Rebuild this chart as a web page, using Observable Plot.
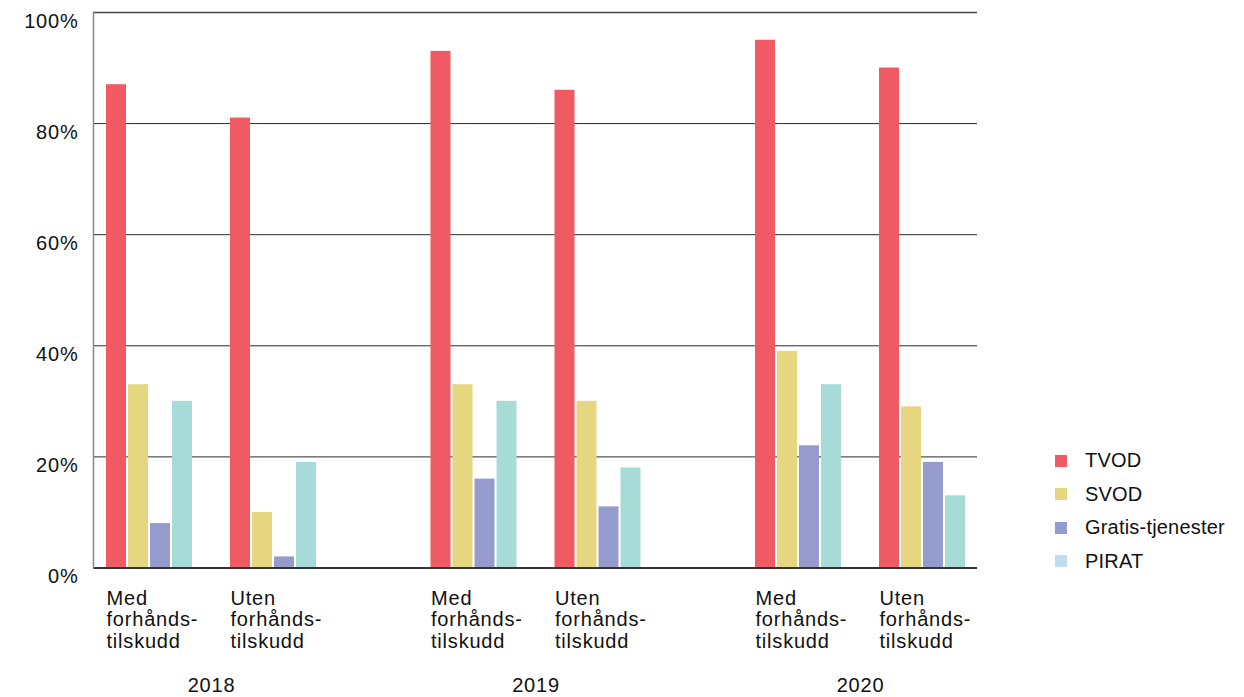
<!DOCTYPE html>
<html><head><meta charset="utf-8">
<script src="https://cdn.jsdelivr.net/npm/d3@7"></script>
<script src="https://cdn.jsdelivr.net/npm/@observablehq/plot@0.6"></script>
<style>
body{margin:0;background:#fff;font-family:"Liberation Sans",Arial,Helvetica,sans-serif;}
#wrap{position:relative;width:1244px;height:697px;overflow:hidden;}
#legend{position:absolute;left:1055px;top:443.75px;}
.item{display:flex;align-items:center;height:33.5px;font-size:20px;letter-spacing:0.2px;color:#111;white-space:nowrap;}
.sw{width:12px;height:12px;margin-right:18px;flex:none;}
</style></head><body>
<div id="wrap"><div id="chart"></div><div id="legend"></div></div>
<script>
// ---- data ----
const years = ["2018", "2019", "2020"];
const groups = ["Med", "Uten"];
const groupLabels = ["Med\nforhånds-\ntilskudd", "Uten\nforhånds-\ntilskudd"];
const series = ["TVOD", "SVOD", "Gratis-tjenester", "PIRAT"];
const barColors = ["#ef5a63", "#e6d680", "#959ccd", "#a6dbd8"];
const legendColors = ["#ef5a63", "#e6d680", "#959ccd", "#bfdcf2"];
// order: 2018 Med, 2018 Uten, 2019 Med, 2019 Uten, 2020 Med, 2020 Uten
const tvod   = [87, 81, 93, 86, 95, 90];
const svod   = [33, 10, 33, 30, 39, 29];
const gratis = [8, 2, 16, 11, 22, 19];
const pirat  = [30, 19, 30, 18, 33, 13];
const yTicks = [0, 20, 40, 60, 80, 100];

const seriesValues = [tvod, svod, gratis, pirat];
const rows = [];
years.forEach((yr, yi) => groups.forEach((g, gi) => {
  const k = yi * 2 + gi;
  seriesValues.forEach((arr, si) => rows.push({year: yr, group: g, series: series[si], value: arr[k]}));
}));

// ---- layout ----
const W = 1244, H = 697;
const step = 324.5, barW = 20, barPitch = 22, groupPitch = 124, firstOffset = 57.25;
const font = "'Liberation Sans', Arial, Helvetica, sans-serif";

const barMarks = groups.flatMap((g, gi) => series.map((s, si) => {
  const left = firstOffset + gi * groupPitch + si * barPitch;
  return Plot.barY(rows.filter(d => d.group === g && d.series === s), {
    x: "year", y: "value", fill: "series",
    insetLeft: left, insetRight: step - left - barW
  });
}));

const groupTextMarks = groups.map((g, gi) => Plot.text(years, {
  x: d => d, text: () => groupLabels[gi],
  frameAnchor: "bottom", textAnchor: "start", lineAnchor: "top",
  dx: firstOffset + gi * groupPitch - step / 2, dy: 21.3,
  lineHeight: 1.075, fontSize: 20, fill: "#111"
}));

const chart = Plot.plot({
  width: W, height: H,
  marginLeft: 93, marginRight: 267, marginTop: 12, marginBottom: 129.5,
  style: {fontFamily: font, color: "#111", background: "#fff", letterSpacing: "0.8px"},
  x: {type: "band", domain: years, range: [48.75, 1022.25], padding: 0, round: false, axis: null},
  y: {domain: [0, 100], axis: null},
  color: {domain: series, range: barColors},
  marks: [
    Plot.ruleY(yTicks.filter(t => t > 0 && t < 100), {stroke: "#2a2a2a", strokeWidth: 1}),
    Plot.ruleY([100], {stroke: "#444", strokeWidth: 1.5}),
    ...barMarks,
    Plot.ruleY([0], {stroke: "#333", strokeWidth: 2}),
    Plot.frame({anchor: "left", stroke: "#888", strokeWidth: 1.5}),
    Plot.axisY(yTicks, {tickSize: 0, tickPadding: 15, tickFormat: d => d + "%", fontSize: 20, dy: 9, label: null}),
    ...groupTextMarks,
    Plot.text(years, {x: d => d, text: d => d, frameAnchor: "bottom", lineAnchor: "top", dy: 109.3, fontSize: 20, fill: "#111"})
  ]
});
document.getElementById("chart").appendChild(chart);

const legend = document.getElementById("legend");
series.forEach((s, i) => {
  const item = document.createElement("div");
  item.className = "item";
  const sw = document.createElement("span");
  sw.className = "sw";
  sw.style.background = legendColors[i];
  const tx = document.createElement("span");
  tx.textContent = s;
  item.appendChild(sw); item.appendChild(tx);
  legend.appendChild(item);
});
</script>
</body></html>
